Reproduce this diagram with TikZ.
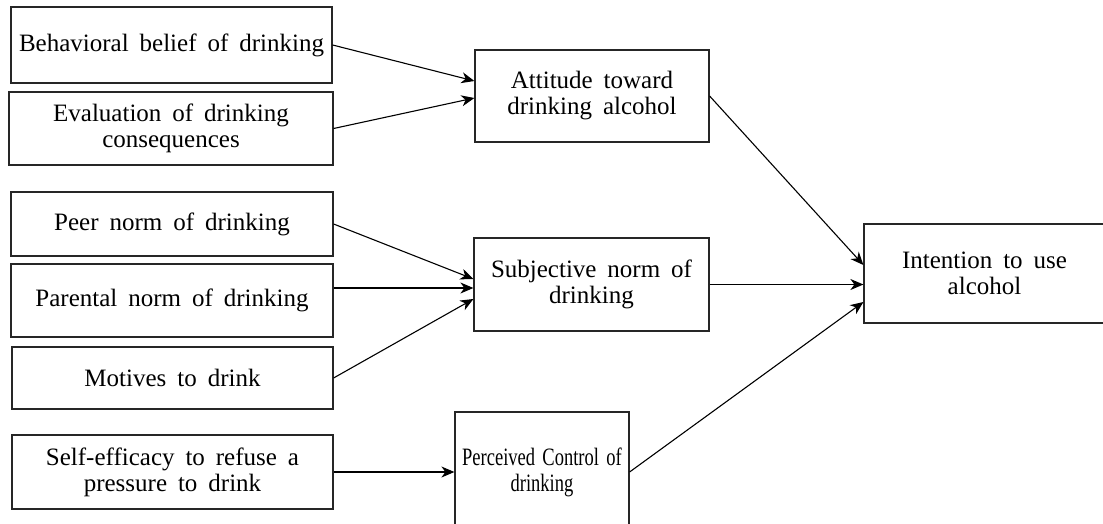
\documentclass[tikz,border=0pt]{standalone}
\usepackage{fontspec}
\setmainfont[WordSpace=1.75]{Liberation Serif}
\newfontfamily\narrowfont[FakeStretch=0.74, WordSpace=1.6]{Liberation Serif}
\usetikzlibrary{arrows.meta}

\begin{document}
\begin{tikzpicture}[
            x=1pt, y=-1pt,
            box/.style={draw=black!85, rectangle, line width=1.2pt, inner sep=0pt, align=center, font=\fontsize{25}{26}\selectfont},
            arr/.style={-{Stealth[length=13pt,width=11pt,inset=4pt]}, line width=1.1pt}
            ]
            \useasboundingbox (0,0) rectangle (1103,524);

            % Nodes with manual coordinates
            \node[box, minimum width=321pt, minimum height=76pt] (beh) at (171.5,45) {Behavioral belief of drinking};
            \node[box, minimum width=324pt, minimum height=73pt] (eval) at (171,128.5) {Evaluation of drinking\\consequences};
            \node[box, minimum width=322pt, minimum height=64pt] (peer) at (172,224) {Peer norm of drinking};
            \node[box, minimum width=322pt, minimum height=73pt] (par) at (172,300.5) {Parental norm of drinking};
            \node[box, minimum width=321pt, minimum height=62pt] (mot) at (172.5,378) {Motives to drink};
            \node[box, minimum width=321pt, minimum height=74pt] (self) at (172.5,472) {Self-efficacy to refuse a\\pressure to drink};
            \node[box, minimum width=234pt, minimum height=92pt] (att) at (592,96) {Attitude toward\\drinking alcohol};
            \node[box, minimum width=235pt, minimum height=93pt] (subj) at (591.5,284.5) {Subjective norm of\\drinking};
            \node[box, minimum width=174pt, minimum height=120pt] (perc) at (542,472) {\narrowfont Perceived Control of\\\narrowfont drinking};
            \node[box, minimum width=241pt, minimum height=99pt] (int) at (984.5,273.5) {Intention to use\\alcohol};

            % Arrows
            \draw[arr] (beh.east) -- ([yshift=15pt]att.west);
            \draw[arr] (eval.east) -- ([yshift=-2pt]att.west);
            \draw[arr] (peer.east) -- ([yshift=5.5pt]subj.west);
            \draw[arr] ([yshift=12.5pt]par.east) -- ([yshift=-3.5pt]subj.west);
            \draw[arr] (mot.east) -- ([yshift=-14.5pt]subj.west);
            \draw[arr] (self.east) -- (perc.west);
            \draw[arr] (att.east) -- ([yshift=8.5pt]int.west);
            \draw[arr] (subj.east) -- ([yshift=-11pt]int.west);
            \draw[arr] (perc.east) -- ([yshift=-28.5pt]int.west);
        \end{tikzpicture}
\end{document}
